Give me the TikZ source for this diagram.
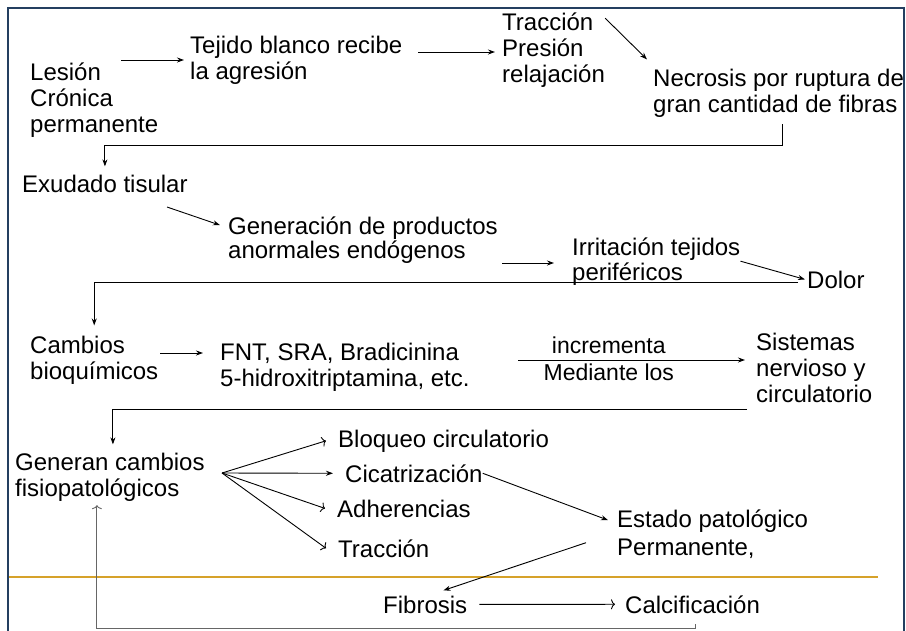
\documentclass[tikz,border=0pt]{standalone}
\usepackage{fontspec}
\setmainfont{Liberation Sans}
\usetikzlibrary{arrows.meta}
\definecolor{marco}{HTML}{243F60}
\definecolor{ocre}{HTML}{D6A22A}
\tikzset{
	txt/.style={anchor=base west, inner sep=0pt, align=left, font=\fontsize{24}{26}\selectfont},
	lin/.style={line width=0.9pt},
	llena/.style={lin, -{Stealth[length=7pt,width=5pt]}},
	abierta/.style={lin, -{To[length=4pt,width=10pt]}}
}

\begin{document}
\begin{tikzpicture}[x=1pt,y=-1pt]
	\useasboundingbox (0,0) rectangle (906,630);
	\draw[marco, line width=1.6pt] (8,8) rectangle (904,660);
	\draw[ocre, line width=1.2pt] (9,577) -- (878,577);

	\node[txt] (lesion) at (30,132) {Lesión\\Crónica\\permanente};
	\node[txt] (tejido) at (190,79) {Tejido blanco recibe\\la agresión};
	\node[txt] (traccion) at (502,82) {Tracción\\Presión\\relajación};
	\node[txt] (necrosis) at (653,112) {Necrosis por ruptura de\\gran cantidad de fibras};
	\node[txt] (exudado) at (22,192) {Exudado tisular};
	\node[txt, font=\fontsize{24}{24}\selectfont] (generacion) at (228,258) {Generación de productos\\anormales endógenos};
	\node[txt, font=\fontsize{24}{25}\selectfont] (irritacion) at (572,280) {Irritación tejidos\\periféricos};
	\node[txt] (dolor) at (807,288) {Dolor};
	\node[txt] (cambios) at (30,379) {Cambios\\bioquímicos};
	\node[txt] (fnt) at (220,386) {FNT, SRA, Bradicinina\\5-hidroxitriptamina, etc.};
	\node[txt] (sistemas) at (756,402) {Sistemas\\nervioso y\\circulatorio};
	\node[txt] (generan) at (15,496) {Generan cambios\\fisiopatológicos};
	\node[txt] (bloqueo) at (338,447) {Bloqueo circulatorio};
	\node[txt] (cicatriz) at (345,482) {Cicatrización};
	\node[txt] (adher) at (337,517) {Adherencias};
	\node[txt] (trac2) at (338,557) {Tracción};
	\node[txt, font=\fontsize{24}{28}\selectfont] (estado) at (617,555) {Estado patológico\\Permanente,};
	\node[txt] (fibrosis) at (383,613) {Fibrosis};
	\node[txt] (calcif) at (625,613) {Calcificación};

	\coordinate (lesion-out) at (121,60);
	\coordinate (tejido-out) at (418,52);
	\coordinate (exudado-out) at (167,207);
	\coordinate (generacion-out) at (502,263);
	\coordinate (cambios-out) at (160,353);
	\coordinate (fnt-out) at (518,360);
	\coordinate (abanico) at (222,473);

	\draw[llena] (lesion-out) -- ([xshift=-6pt]tejido.west |- lesion-out);
	\draw[llena] (tejido-out) -- ([xshift=-7pt]traccion.west |- tejido-out);
	\draw[llena] ([yshift=-6pt]traccion.north east) -- ([xshift=-6pt,yshift=9pt]necrosis.north west);
	\draw[llena] ([xshift=4pt,yshift=-7pt]necrosis.south) -- ++(0,21) -| ([yshift=8pt]exudado.north);
	\draw[llena] (exudado-out) -- ([xshift=-8pt,yshift=-9pt]generacion.north west);
	\draw[llena] (generacion-out) -- ([xshift=-18pt]irritacion.west |- generacion-out);
	\draw[llena] (irritacion.east) -- ([xshift=-2pt]dolor.west);
	\draw[llena] ([xshift=-9pt,yshift=-3pt]dolor.west) -| ([yshift=10pt]cambios.north);
	\draw[llena] (cambios-out) -- ([xshift=-17pt]fnt.west |- cambios-out);
	\draw[llena] (fnt-out) -- ([xshift=-11pt]sistemas.west |- fnt-out)
		node[pos=0.4, anchor=base, yshift=7pt, inner sep=0pt, font=\fontsize{23}{26}\selectfont] (incr) {incrementa}
		node[pos=0.4, anchor=base, yshift=-20pt, inner sep=0pt, font=\fontsize{23}{26}\selectfont] (mediante) {Mediante los};
	\draw[llena] ([xshift=-9pt,yshift=-7pt]sistemas.south west) -| ([xshift=3pt,yshift=8pt]generan.north);

	\foreach \dest in {bloqueo,adher,trac2}
		\draw[abierta] (abanico) -- ([xshift=-12pt]\dest.west);
	\draw[llena] (abanico) -- ([xshift=-12pt]cicatriz.west);

	\draw[llena] (cicatriz.east) -- ([xshift=-9pt,yshift=-11pt]estado.north west);
	\draw[llena] ([xshift=-31pt,yshift=-9pt]estado.west) -- ([xshift=-24pt,yshift=5pt]fibrosis.north east);
	\draw[abierta] ([xshift=12pt]fibrosis.east) -- ([xshift=-10pt]calcif.west);
	\draw[abierta,black!60] ([xshift=3pt,yshift=-11pt]calcif.south) -- ++(0,4) -| ([xshift=-13pt,yshift=-4pt]generan.south);
\end{tikzpicture}
\end{document}
